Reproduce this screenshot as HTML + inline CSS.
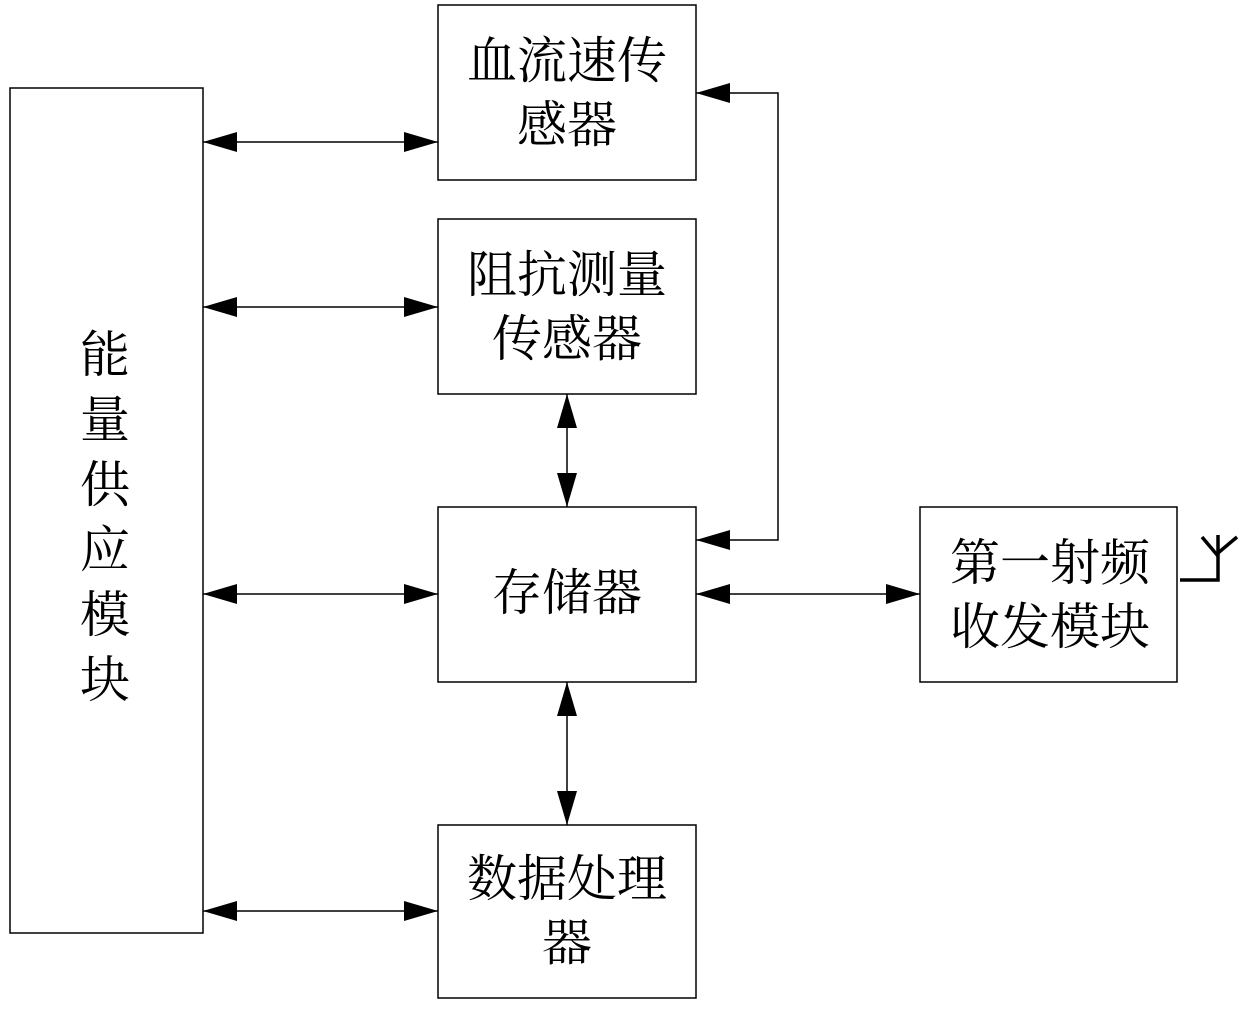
<!DOCTYPE html>
<html><head><meta charset="utf-8"><style>
body{margin:0;background:#fff;width:1240px;height:1004px;overflow:hidden}
svg text{font-family:"Liberation Serif","Noto Serif CJK SC",serif;font-size:50px;fill:#000}
</style></head><body>
<svg width="1240" height="1004" viewBox="0 0 1240 1004">
<defs>
<marker id="a" markerWidth="12" markerHeight="10" refX="12" refY="5" orient="auto-start-reverse" markerUnits="userSpaceOnUse" viewBox="0 0 12 10">
<path d="M0,0 L12,5 L0,10 Z" fill="#000"/></marker>
<marker id="b" markerWidth="34" markerHeight="20" refX="34" refY="10" orient="auto-start-reverse" markerUnits="userSpaceOnUse" viewBox="0 0 34 20">
<path d="M0,0 L34,10 L0,20 Z" fill="#000"/></marker>
</defs>
<g fill="none" stroke="#000" stroke-width="1.5">
<rect x="10" y="88" width="193" height="845"/>
<rect x="438" y="5" width="258" height="175"/>
<rect x="438" y="219" width="258" height="175"/>
<rect x="438" y="507" width="258" height="175"/>
<rect x="438" y="825" width="258" height="173"/>
<rect x="920" y="507" width="257" height="175"/>
</g>
<g stroke="#000" stroke-width="1.5" fill="none" marker-start="url(#b)" marker-end="url(#b)">
<line x1="203" y1="142" x2="438" y2="142"/>
<line x1="203" y1="307" x2="438" y2="307"/>
<line x1="203" y1="594" x2="438" y2="594"/>
<line x1="203" y1="911" x2="438" y2="911"/>
<line x1="567" y1="394" x2="567" y2="507"/>
<line x1="567" y1="682" x2="567" y2="825"/>
<line x1="696" y1="594" x2="920" y2="594"/>
<polyline points="696,93 778,93 778,540 696,540"/>
</g>
<g stroke="#000" stroke-width="3.5" fill="none">
<polyline points="1180,580 1218,580 1218,535"/>
<line x1="1218" y1="556" x2="1202" y2="537"/>
<line x1="1218" y1="553" x2="1237" y2="537"/>
</g>
<g text-anchor="middle">
<text x="567" y="78">血流速传</text>
<text x="567" y="142">感器</text>
<text x="567" y="292">阻抗测量</text>
<text x="567" y="356">传感器</text>
<text x="567" y="610">存储器</text>
<text x="567" y="896">数据处理</text>
<text x="567" y="960">器</text>
<text x="1050" y="580">第一射频</text>
<text x="1050" y="644">收发模块</text>
<text x="105" y="372">能</text>
<text x="105" y="437">量</text>
<text x="105" y="502">供</text>
<text x="105" y="567">应</text>
<text x="105" y="632">模</text>
<text x="105" y="697">块</text>
</g>
</svg>
</body></html>
